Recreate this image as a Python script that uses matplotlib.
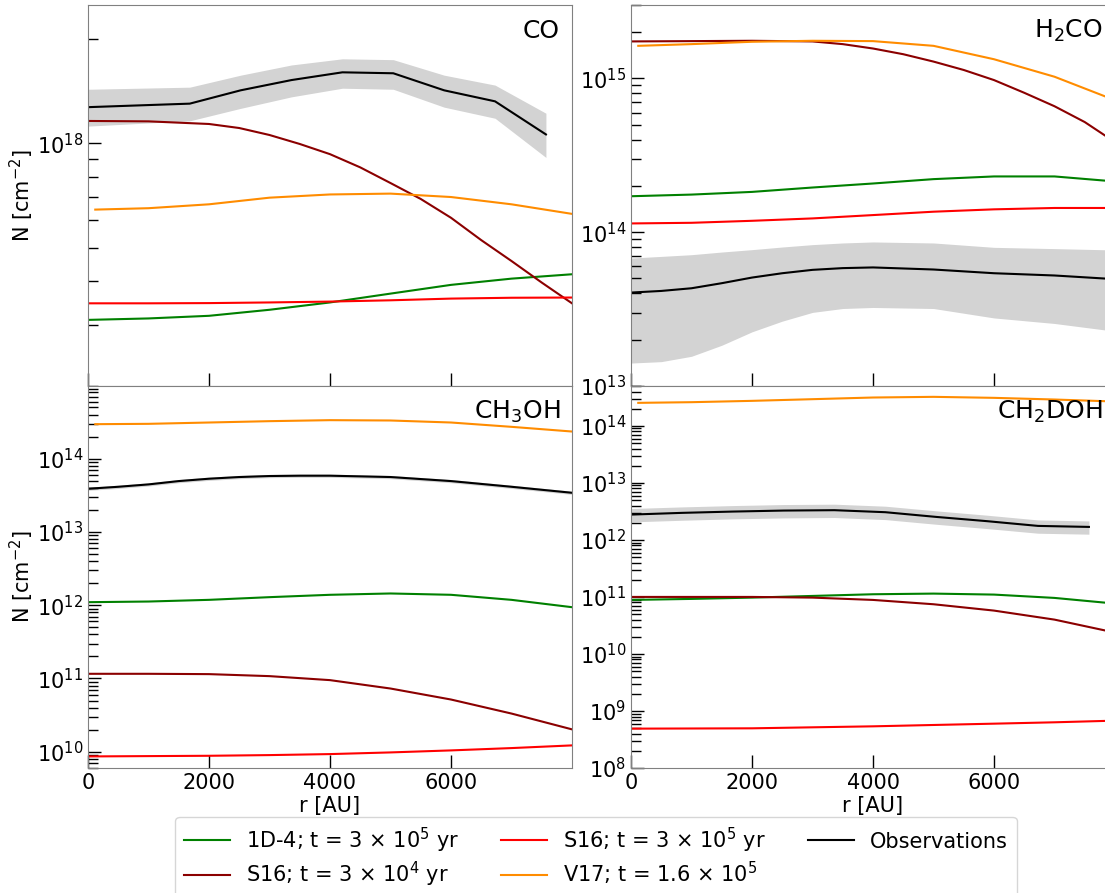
import matplotlib
matplotlib.use('Agg')
import matplotlib.pyplot as plt
from matplotlib.ticker import NullFormatter

# radial grids [AU]
r_mod = [0, 1000, 2000, 3000, 4000, 5000, 6000, 7000, 8000]
r_v17 = [120, 1000, 2000, 3000, 4000, 5000, 6000, 7000, 8000]
r_co_s16 = [0, 1000, 2000, 2500, 3000, 3500, 4000, 4500, 5000, 5500, 6000, 6500, 7000, 7500, 8000]
r_h2co_s16 = [0, 1000, 2000, 3000, 3500, 4000, 4500, 5000, 5500, 6000, 6500, 7000, 7500, 8000]
r_obs = [0, 841, 1682, 2523, 3364, 4205, 5046, 5887, 6728, 7569]
r_obs2 = [0, 500, 1000, 1500, 2000, 2500, 3000, 3500, 4000, 5000, 6000, 7000, 8000]

# CO
co_1d4 = [0.310e18, 0.313e18, 0.3185e18, 0.3315e18, 0.348e18, 0.369e18, 0.391e18, 0.4075e18, 0.4195e18]
co_s16_3e4 = [1.159e18, 1.156e18, 1.136e18, 1.106e18, 1.056e18, 0.995e18, 0.930e18, 0.852e18,
              0.768e18, 0.691e18, 0.610e18, 0.526e18, 0.458e18, 0.397e18, 0.346e18]
co_s16_3e5 = [0.346e18, 0.346e18, 0.3465e18, 0.348e18, 0.350e18, 0.353e18, 0.357e18, 0.359e18, 0.3595e18]
co_v17 = [0.644e18, 0.650e18, 0.667e18, 0.697e18, 0.712e18, 0.716e18, 0.700e18, 0.667e18, 0.626e18]
co_obs = [1.27e18, 1.285e18, 1.30e18, 1.42e18, 1.52e18, 1.60e18, 1.59e18, 1.42e18, 1.32e18, 1.06e18]
co_obs_hi = [1.43e18, 1.44e18, 1.45e18, 1.57e18, 1.68e18, 1.75e18, 1.74e18, 1.57e18, 1.47e18, 1.22e18]
co_obs_lo = [1.12e18, 1.14e18, 1.16e18, 1.26e18, 1.36e18, 1.44e18, 1.43e18, 1.27e18, 1.18e18, 0.91e18]

# H2CO
h2co_1d4 = [1.713e14, 1.756e14, 1.828e14, 1.952e14, 2.073e14, 2.213e14, 2.304e14, 2.304e14, 2.137e14]
h2co_s16_3e4 = [1.739e15, 1.747e15, 1.756e15, 1.739e15, 1.670e15, 1.564e15, 1.436e15,
                1.286e15, 1.134e15, 0.975e15, 0.806e15, 0.659e15, 0.520e15, 0.385e15]
h2co_s16_3e5 = [1.140e14, 1.151e14, 1.186e14, 1.229e14, 1.292e14, 1.359e14, 1.408e14, 1.437e14, 1.437e14]
h2co_v17 = [1.628e15, 1.670e15, 1.730e15, 1.756e15, 1.747e15, 1.628e15, 1.332e15, 1.025e15, 0.721e15]
h2co_obs = [4.05e13, 4.15e13, 4.32e13, 4.66e13, 5.07e13, 5.41e13, 5.69e13, 5.84e13, 5.90e13, 5.72e13, 5.41e13, 5.23e13, 4.95e13]
h2co_obs_hi = [6.79e13, 6.96e13, 7.14e13, 7.43e13, 7.70e13, 8.01e13, 8.30e13, 8.51e13, 8.64e13, 8.51e13, 7.97e13, 7.82e13, 7.66e13]
h2co_obs_lo = [1.41e13, 1.44e13, 1.56e13, 1.84e13, 2.25e13, 2.64e13, 3.01e13, 3.19e13, 3.24e13, 3.19e13, 2.77e13, 2.55e13, 2.27e13]

# CH3OH
ch3oh_1d4 = [1.099e12, 1.122e12, 1.183e12, 1.287e12, 1.386e12, 1.445e12, 1.386e12, 1.183e12, 0.939e12]
ch3oh_s16_3e4 = [1.158e11, 1.158e11, 1.146e11, 1.076e11, 0.949e11, 0.729e11, 0.516e11, 0.332e11, 0.202e11]
ch3oh_s16_3e5 = [8.63e9, 8.72e9, 8.81e9, 9.00e9, 9.29e9, 9.79e9, 10.43e9, 11.22e9, 12.21e9]
ch3oh_v17 = [2.953e14, 2.985e14, 3.112e14, 3.246e14, 3.350e14, 3.315e14, 3.112e14, 2.716e14, 2.344e14]
ch3oh_obs = [3.88e13, 4.13e13, 4.45e13, 4.94e13, 5.32e13, 5.61e13, 5.79e13, 5.85e13, 5.85e13, 5.61e13, 4.94e13, 4.13e13, 3.42e13]
ch3oh_obs_hi = [4.07e13, 4.34e13, 4.67e13, 5.19e13, 5.59e13, 5.89e13, 6.08e13, 6.14e13, 6.14e13, 5.89e13, 5.19e13, 4.34e13, 3.59e13]
ch3oh_obs_lo = [3.69e13, 3.92e13, 4.23e13, 4.69e13, 5.05e13, 5.33e13, 5.50e13, 5.56e13, 5.56e13, 5.33e13, 4.69e13, 3.92e13, 3.25e13]

# CH2DOH
ch2doh_1d4 = [8.86e10, 9.23e10, 9.73e10, 10.41e10, 11.14e10, 11.44e10, 10.99e10, 9.61e10, 7.64e10]
ch2doh_s16_3e4 = [10.0e10, 10.0e10, 10.0e10, 9.73e10, 8.86e10, 7.44e10, 5.76e10, 4.00e10, 2.37e10]
ch2doh_s16_3e5 = [4.90e8, 4.93e8, 4.965e8, 5.17e8, 5.38e8, 5.68e8, 5.99e8, 6.33e8, 6.77e8]
ch2doh_v17 = [2.532e14, 2.601e14, 2.745e14, 2.936e14, 3.141e14, 3.227e14, 3.099e14, 2.897e14, 2.672e14]
ch2doh_obs = [2.78e12, 2.98e12, 3.14e12, 3.27e12, 3.32e12, 3.06e12, 2.53e12, 2.13e12, 1.76e12, 1.69e12]
ch2doh_obs_hi = [3.55e12, 3.79e12, 4.00e12, 4.17e12, 4.23e12, 3.90e12, 3.23e12, 2.71e12, 2.24e12, 2.15e12]
ch2doh_obs_lo = [2.07e12, 2.21e12, 2.34e12, 2.43e12, 2.47e12, 2.27e12, 1.88e12, 1.58e12, 1.31e12, 1.26e12]

labels = ['1D-4; t = 3 $\\times$ 10$^5$ yr', 'S16; t = 3 $\\times$ 10$^4$ yr',
          'S16; t = 3 $\\times$ 10$^5$ yr', 'V17; t = 1.6 $\\times$ 10$^5$', 'Observations']
colors = ['green', 'darkred', 'red', 'darkorange', 'black']

panels = [
    ('CO', [(r_mod, co_1d4), (r_co_s16, co_s16_3e4), (r_mod, co_s16_3e5), (r_v17, co_v17)],
     r_obs, co_obs, co_obs_lo, co_obs_hi, (2e17, 2.5e18)),
    ('H$_2$CO', [(r_mod, h2co_1d4), (r_h2co_s16, h2co_s16_3e4), (r_mod, h2co_s16_3e5), (r_v17, h2co_v17)],
     r_obs2, h2co_obs, h2co_obs_lo, h2co_obs_hi, (1e13, 3e15)),
    ('CH$_3$OH', [(r_mod, ch3oh_1d4), (r_mod, ch3oh_s16_3e4), (r_mod, ch3oh_s16_3e5), (r_v17, ch3oh_v17)],
     r_obs2, ch3oh_obs, ch3oh_obs_lo, ch3oh_obs_hi, (6e9, 9.8e14)),
    ('CH$_2$DOH', [(r_mod, ch2doh_1d4), (r_mod, ch2doh_s16_3e4), (r_mod, ch2doh_s16_3e5), (r_v17, ch2doh_v17)],
     r_obs, ch2doh_obs, ch2doh_obs_lo, ch2doh_obs_hi, (1e8, 5e14)),
]

W, H = 1105, 893
fig = plt.figure(figsize=(W / 100, H / 100), dpi=100)

# axes boxes in pixels: left, top, width, height (right column runs past the edge)
boxes = [(88, 5, 484, 381), (631, 5, 484, 381), (88, 386, 484, 382), (631, 386, 484, 382)]

handles = []
for i, (name, models, robs, obs, lo, hi, ylim) in enumerate(panels):
    x0, y0, w, h = boxes[i]
    ax = fig.add_axes([x0 / W, 1 - (y0 + h) / H, w / W, h / H])
    ax.set_yscale('log')
    ax.fill_between(robs, lo, hi, color='lightgrey', lw=0)
    hs = []
    for j, (rr, m) in enumerate(models):
        l, = ax.plot(rr, m, color=colors[j], lw=1.5)
        hs.append(l)
    l, = ax.plot(robs, obs, color='black', lw=1.5)
    hs.append(l)
    if i == 0:
        handles = hs
    ax.set_xlim(0, 8000)
    ax.set_ylim(*ylim)
    ax.set_xticks([0, 2000, 4000, 6000])
    ax.yaxis.set_minor_formatter(NullFormatter())
    ax.tick_params(which='major', direction='in', length=9.5, width=1.0, labelsize=15)
    ax.tick_params(which='minor', direction='in', length=7.5, width=1.0)
    for s in ax.spines.values():
        s.set_color('grey')
    ax.text(0.975, 0.932, name, transform=ax.transAxes, ha='right', va='center', fontsize=18)
    if i < 2:
        ax.tick_params(labelbottom=False)
    else:
        ax.set_xlabel('r [AU]', fontsize=15, labelpad=2)
    if i % 2 == 0:
        ax.set_ylabel('N [cm$^{-2}$]', fontsize=15, labelpad=0.5)

fig.legend(handles, labels, loc='upper center', bbox_to_anchor=(596 / W, 1 - 817 / H),
           borderaxespad=0, ncol=3, fontsize=15, handlelength=2.2, columnspacing=2.0,
           labelspacing=0.25)

fig.savefig('out.png', dpi=100)
